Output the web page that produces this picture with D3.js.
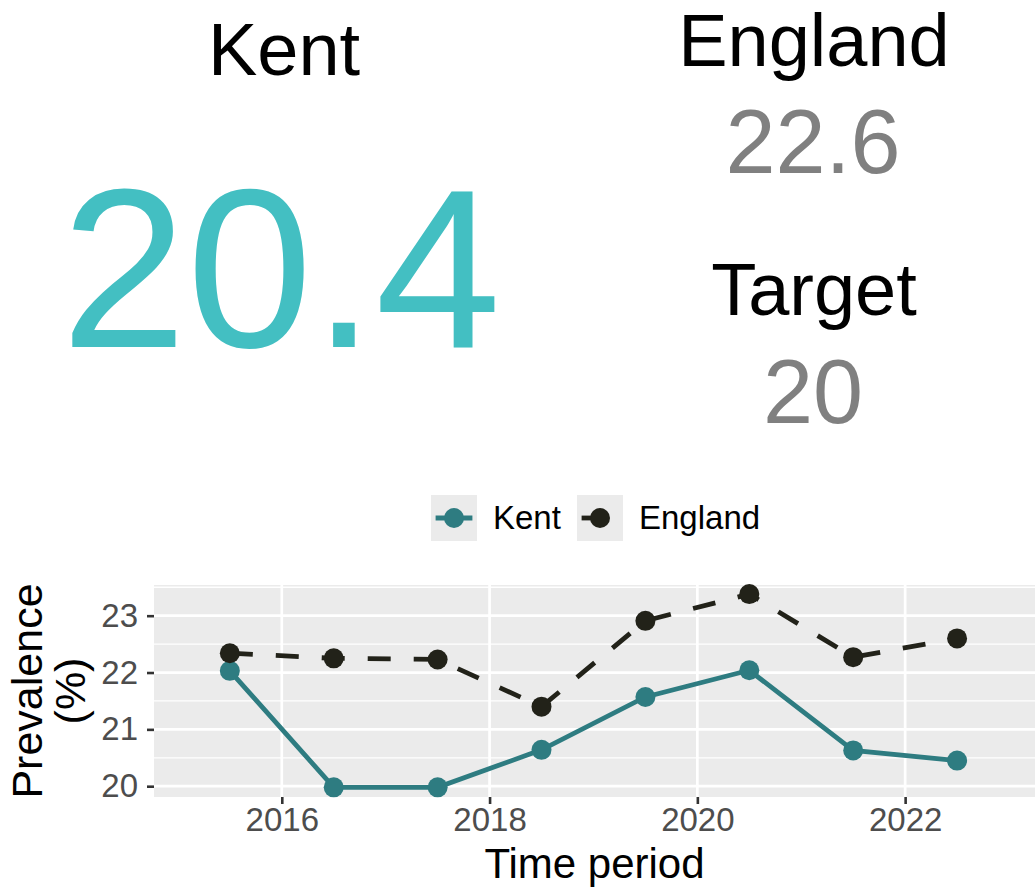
<!DOCTYPE html>
<html>
<head>
<meta charset="utf-8">
<script src="https://cdn.jsdelivr.net/npm/d3@7"></script>
<style>
  html, body { margin: 0; padding: 0; background: #ffffff; }
  svg { display: block; font-family: "Liberation Sans", Arial, sans-serif; }
</style>
</head>
<body>
<svg id="chart" width="1035" height="887"></svg>
<script>
// ---- data ----
const periods = [2015.5, 2016.5, 2017.5, 2018.5, 2019.5, 2020.5, 2021.5, 2022.5];
const kentValues = [22.03, 19.98, 19.98, 20.64, 21.57, 22.04, 20.63, 20.45];
const englandValues = [22.34, 22.25, 22.23, 21.40, 22.91, 23.38, 22.27, 22.60];
const seriesNames = ["Kent", "England"];
const xTicks = [2016, 2018, 2020, 2022];
const yTicks = [20, 21, 22, 23];
const yMinorTicks = [20.5, 21.5, 22.5, 23.5];
const headline = { area: "Kent", value: "20.4", compName: "England", compValue: "22.6", targetName: "Target", targetValue: "20" };

const colors = { Kent: "#2e7c81", England: "#222219" };

(function () {
const svg = d3.select("#chart");

// ---- headline texts ----
svg.append("text").attr("x", 284).attr("y", 75).attr("text-anchor", "middle")
  .attr("font-size", 74).attr("fill", "#000").text(headline.area);
svg.append("text").attr("x", 281).attr("y", 347).attr("text-anchor", "middle")
  .attr("font-size", 226).attr("fill", "#43bfc2").text(headline.value);
svg.append("text").attr("x", 814).attr("y", 66).attr("text-anchor", "middle")
  .attr("font-size", 74).attr("fill", "#000").text(headline.compName);
svg.append("text").attr("x", 813).attr("y", 173).attr("text-anchor", "middle")
  .attr("font-size", 90).attr("fill", "#808080").text(headline.compValue);
svg.append("text").attr("x", 814).attr("y", 315).attr("text-anchor", "middle")
  .attr("font-size", 74).attr("fill", "#000").text(headline.targetName);
svg.append("text").attr("x", 813).attr("y", 423).attr("text-anchor", "middle")
  .attr("font-size", 90).attr("fill", "#808080").text(headline.targetValue);

// ---- panel ----
const pL = 154, pR = 1035, pT = 585, pB = 797;
const x = d3.scaleLinear().domain([2014.77, 2023.25]).range([pL, pR]);
const y = d3.scaleLinear().domain([19.81, 23.54]).range([pB, pT]);

svg.append("rect").attr("x", pL).attr("y", pT).attr("width", pR - pL)
  .attr("height", pB - pT).attr("fill", "#ebebeb");

const g = svg.append("g");
g.selectAll("line.minor").data(yMinorTicks).enter().append("line")
  .attr("x1", pL).attr("x2", pR).attr("y1", d => y(d)).attr("y2", d => y(d))
  .attr("stroke", "#fff").attr("stroke-width", 1.3);
g.selectAll("line.majy").data(yTicks).enter().append("line")
  .attr("x1", pL).attr("x2", pR).attr("y1", d => y(d)).attr("y2", d => y(d))
  .attr("stroke", "#fff").attr("stroke-width", 2.7);
g.selectAll("line.majx").data(xTicks).enter().append("line")
  .attr("x1", d => x(d)).attr("x2", d => x(d)).attr("y1", pT).attr("y2", pB)
  .attr("stroke", "#fff").attr("stroke-width", 2.7);

// axes
const yAxis = svg.append("g").attr("transform", `translate(${pL},0)`)
  .call(d3.axisLeft(y).tickValues(yTicks).tickSize(7).tickPadding(9).tickFormat(d3.format("d")));
const xAxis = svg.append("g").attr("transform", `translate(0,${pB})`)
  .call(d3.axisBottom(x).tickValues(xTicks).tickSize(7).tickPadding(4).tickFormat(d3.format("d")));
[yAxis, xAxis].forEach(ax => {
  ax.select(".domain").remove();
  ax.selectAll(".tick line").attr("stroke", "#333333").attr("stroke-width", 2.6);
  ax.selectAll(".tick text").attr("fill", "#4d4d4d").attr("font-size", 33)
    .attr("font-family", "Liberation Sans, Arial, sans-serif");
});

// axis titles
svg.append("text").attr("x", (pL + pR) / 2).attr("y", 878).attr("text-anchor", "middle")
  .attr("font-size", 42).attr("fill", "#000").text("Time period");
const yt = svg.append("text").attr("transform", `translate(41.5,${(pT + pB) / 2}) rotate(-90)`)
  .attr("text-anchor", "middle").attr("font-size", 43).attr("fill", "#000");
yt.append("tspan").attr("x", 0).attr("y", 0).text("Prevalence");
yt.append("tspan").attr("x", 0).attr("y", 43).text("(%)");

// ---- series ----
const series = [
  { name: "Kent", values: kentValues, dash: null },
  { name: "England", values: englandValues, dash: "23,23" }
];
const line = d3.line().x(d => x(d[0])).y(d => y(d[1]));
series.forEach(s => {
  const pts = periods.map((p, i) => [p, s.values[i]]);
  svg.append("path").datum(pts).attr("d", line).attr("fill", "none")
    .attr("stroke", colors[s.name]).attr("stroke-width", 4.8)
    .attr("stroke-dasharray", s.dash);
  svg.selectAll(null).data(pts).enter().append("circle")
    .attr("cx", d => x(d[0])).attr("cy", d => y(d[1])).attr("r", 10)
    .attr("fill", colors[s.name]);
});

// ---- legend ----
const legendKeys = [{ name: "Kent", kx: 431, tx: 493, dash: null }, { name: "England", kx: 577, tx: 639, dash: "23,23" }];
legendKeys.forEach(k => {
  const lg = svg.append("g");
  lg.append("rect").attr("x", k.kx).attr("y", 495).attr("width", 46).attr("height", 46).attr("fill", "#ebebeb");
  lg.append("line").attr("x1", k.kx + 4.6).attr("x2", k.kx + 41.4).attr("y1", 518).attr("y2", 518)
    .attr("stroke", colors[k.name]).attr("stroke-width", 4.8).attr("stroke-dasharray", k.dash);
  lg.append("circle").attr("cx", k.kx + 23).attr("cy", 518).attr("r", 10).attr("fill", colors[k.name]);
  lg.append("text").attr("x", k.tx).attr("y", 529).attr("font-size", 33).attr("fill", "#000").text(k.name);
});
})();
</script>
</body>
</html>
